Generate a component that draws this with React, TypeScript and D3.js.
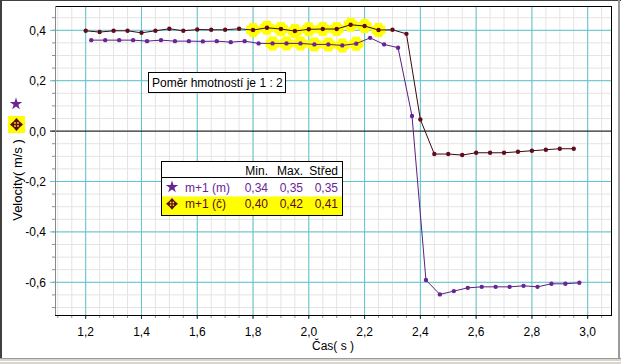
import React from 'react';
import * as d3 from 'd3';

const W = 621;
const H = 364;

// maroon series "m+1 (č)"
const timeC = [1.20, 1.25, 1.30, 1.35, 1.40, 1.45, 1.50, 1.55, 1.60, 1.65, 1.70, 1.75, 1.80, 1.85, 1.90, 1.95, 2.00, 2.05, 2.10, 2.15, 2.20, 2.25, 2.30, 2.35, 2.40, 2.45, 2.50, 2.55, 2.60, 2.65, 2.70, 2.75, 2.80, 2.85, 2.90, 2.95];
const velC = [0.398, 0.393, 0.398, 0.398, 0.390, 0.398, 0.406, 0.398, 0.403, 0.402, 0.402, 0.406, 0.401, 0.410, 0.405, 0.397, 0.404, 0.405, 0.405, 0.422, 0.417, 0.401, 0.402, 0.386, 0.046, -0.091, -0.091, -0.095, -0.086, -0.086, -0.086, -0.082, -0.078, -0.074, -0.070, -0.070];

// purple series "m+1 (m)"
const timeM = [1.22, 1.27, 1.32, 1.37, 1.42, 1.47, 1.52, 1.57, 1.62, 1.67, 1.72, 1.77, 1.82, 1.87, 1.92, 1.97, 2.02, 2.07, 2.12, 2.17, 2.22, 2.27, 2.32, 2.37, 2.42, 2.47, 2.52, 2.57, 2.62, 2.67, 2.72, 2.77, 2.82, 2.87, 2.92, 2.97];
const velM = [0.361, 0.361, 0.361, 0.361, 0.357, 0.361, 0.357, 0.357, 0.356, 0.357, 0.353, 0.357, 0.348, 0.348, 0.348, 0.348, 0.344, 0.344, 0.340, 0.347, 0.370, 0.344, 0.331, 0.060, -0.591, -0.648, -0.635, -0.622, -0.618, -0.618, -0.618, -0.614, -0.618, -0.606, -0.606, -0.602];

// selected (highlighted) ranges
const selectC = [1.80, 2.25];
const selectM = [1.87, 2.17];

const xTicks = [1.2, 1.4, 1.6, 1.8, 2.0, 2.2, 2.4, 2.6, 2.8, 3.0];
const yTicks = [-0.6, -0.4, -0.2, 0.0, 0.2, 0.4];

const statHeaders = ['Min.', 'Max.', 'Střed'];
const seriesNames = ['m+1 (m)', 'm+1 (č)'];
const statMin = ['0,34', '0,40'];
const statMax = ['0,35', '0,42'];
const statMean = ['0,35', '0,41'];

const noteText = 'Poměr hmotností je 1 : 2';
const xTitle = 'Čas( s )';
const yTitle = 'Velocity( m/s )';

const MAROON = '#5e0c1e';
const MAROON_LINE = '#3c0810';
const PURPLE = '#6a2496';
const PURPLE_LINE = '#5a1f84';
const CYAN = '#5cc6cc';
const MINOR = '#e4e4e4';
const YELLOW = '#ffff00';
const FONT = '"Liberation Sans", Arial, sans-serif';

const L = 55, R = 612, T = 6, B = 315;

const x = d3.scaleLinear().domain([1.2, 3.0]).range([85.7, 587.7]);
const y = d3.scaleLinear().domain([-0.6, 0.4]).range([282.3, 30.3]);

const fmt = (v: number) => d3.format('.1f')(v).replace('.', ',').replace('−', '-');

function minorRange(lo: number, hi: number) {
  return d3.range(Math.ceil(lo * 20 - 1e-9), Math.floor(hi * 20 + 1e-9) + 1).map((i) => i / 20);
}

const crossArrows = 'M-5.5,0L5.5,0M0,-5.5L0,5.5M5.5,0L3,-2.2L3,2.2ZM-5.5,0L-3,-2.2L-3,2.2ZM0,-5.5L-2.2,-3L2.2,-3ZM0,5.5L-2.2,3L2.2,3Z';
const blob = 'M-3.5,-7L3.5,-7L4.5,-4.5L7,-3.5L7,3.5L4.5,4.5L3.5,7L-3.5,7L-4.5,4.5L-7,3.5L-7,-3.5L-4.5,-4.5Z';

export default function App() {
  const xMinor = minorRange(x.invert(L), x.invert(R));
  const yMinor = minorRange(y.invert(B), y.invert(T));
  const line = d3.line<[number, number]>().x((d) => x(d[0])).y((d) => y(d[1]));
  const dataC: [number, number][] = timeC.map((t, i) => [t, velC[i]]);
  const dataM: [number, number][] = timeM.map((t, i) => [t, velM[i]]);
  const selC = dataC.filter((d) => d[0] >= selectC[0] - 1e-6 && d[0] <= selectC[1] + 1e-6);
  const selM = dataM.filter((d) => d[0] >= selectM[0] - 1e-6 && d[0] <= selectM[1] + 1e-6);
  const star = d3.symbol(d3.symbolStar, 48)() as string;

  const colRight = [268, 303, 338];

  return (
    <svg width={W} height={H} style={{ position: 'absolute', left: 0, top: 0, fontFamily: FONT }}>
      <rect x={0} y={0} width={W} height={H} fill="#ffffff" />
      {/* window frame */}
      <rect x={0} y={358} width={W} height={6} fill="#d8d5ce" />
      <line x1={0} x2={W} y1={358.5} y2={358.5} stroke="#9a9a9a" />
      <line x1={0} x2={W} y1={361.5} y2={361.5} stroke="#ffffff" />
      <line x1={0} x2={W} y1={0.5} y2={0.5} stroke="#404040" />
      <line x1={1} x2={1} y1={0} y2={358} stroke="#404040" strokeWidth={2} />
      <line x1={619} x2={619} y1={0} y2={358} stroke="#9a9a9a" strokeWidth={2} />

      {/* minor grid */}
      {xMinor.map((v) => (
        <line key={'xm' + v} x1={x(v)} x2={x(v)} y1={T} y2={B} stroke={MINOR} />
      ))}
      {yMinor.map((v) => (
        <line key={'ym' + v} x1={L} x2={R} y1={y(v)} y2={y(v)} stroke={MINOR} />
      ))}
      {/* minor ticks */}
      {xMinor.map((v) => (
        <line key={'xt' + v} x1={x(v)} x2={x(v)} y1={B} y2={B + 3} stroke="#909090" />
      ))}
      {yMinor.map((v) => (
        <line key={'yt' + v} x1={L - 3} x2={L} y1={y(v)} y2={y(v)} stroke="#909090" />
      ))}
      {/* major grid */}
      {xTicks.map((v) => (
        <line key={'xg' + v} x1={x(v)} x2={x(v)} y1={T} y2={B} stroke={CYAN} />
      ))}
      {yTicks.map((v) => (
        <line key={'yg' + v} x1={L - 5} x2={R} y1={y(v)} y2={y(v)} stroke={v === 0 ? '#000' : CYAN} />
      ))}
      {xTicks.map((v) => (
        <line key={'xT' + v} x1={x(v)} x2={x(v)} y1={B} y2={B + 4} stroke="#303030" />
      ))}
      {/* frame */}
      <line x1={L} x2={R} y1={T + 0.5} y2={T + 0.5} stroke="#000" />
      <line x1={R - 0.5} x2={R - 0.5} y1={T} y2={B} stroke="#000" />
      <line x1={L} x2={R} y1={B + 0.5} y2={B + 0.5} stroke="#000" />
      <line x1={L + 0.5} x2={L + 0.5} y1={T} y2={B} stroke="#888" />

      {/* tick labels */}
      {xTicks.map((v) => (
        <text key={'xl' + v} x={x(v)} y={336} fontSize={12} textAnchor="middle" fill="#000">
          {fmt(v)}
        </text>
      ))}
      {yTicks.map((v) => (
        <text key={'yl' + v} x={46} y={y(v) + 4.5} fontSize={12} textAnchor="end" fill="#000">
          {fmt(v)}
        </text>
      ))}
      <text x={333} y={350} fontSize={12} textAnchor="middle">{xTitle}</text>
      <text transform="translate(22,180) rotate(-90)" fontSize={13} textAnchor="middle">{yTitle}</text>

      {/* highlights */}
      {selC.map((d, i) => (
        <path key={'hc' + i} d={blob} transform={`translate(${x(d[0])},${y(d[1])})`} fill={YELLOW} />
      ))}
      {selM.map((d, i) => (
        <path key={'hm' + i} d={blob} transform={`translate(${x(d[0])},${y(d[1])})`} fill={YELLOW} />
      ))}

      {/* lines */}
      <path d={line(dataC) as string} fill="none" stroke={MAROON_LINE} strokeWidth={1} />
      <path d={line(dataM) as string} fill="none" stroke={PURPLE_LINE} strokeWidth={1} />
      {dataC.map((d, i) => (
        <circle key={'pc' + i} cx={x(d[0])} cy={y(d[1])} r={2.2} fill={MAROON} />
      ))}
      {dataM.map((d, i) => (
        <circle key={'pm' + i} cx={x(d[0])} cy={y(d[1])} r={2.2} fill={PURPLE} />
      ))}

      {/* left legend icons */}
      <path d={star} transform="translate(16,104)" fill={PURPLE} />
      <rect x={8} y={116} width={17} height={17} fill={YELLOW} />
      <path d={crossArrows} transform="translate(16.5,124.5)" stroke={MAROON} strokeWidth={1.4} fill={MAROON} />

      {/* note box */}
      <rect x={148.5} y={72.5} width={137} height={20} fill="#fff" stroke="#000" />
      <text x={152} y={87} fontSize={12}>{noteText}</text>

      {/* stats box */}
      <rect x={161.5} y={161.5} width={181} height={54} fill="#fff" stroke="none" />
      <rect x={162} y={196.5} width={180} height={18.5} fill={YELLOW} />
      <rect x={161.5} y={161.5} width={181} height={54} fill="none" stroke="#000" />
      <line x1={162} x2={342} y1={177.5} y2={177.5} stroke="#000" />
      {statHeaders.map((h, i) => (
        <text key={'sh' + i} x={colRight[i]} y={175} fontSize={12} textAnchor="end">{h}</text>
      ))}
      {seriesNames.map((n, r) => {
        const by = r === 0 ? 191.5 : 208.3;
        return (
          <g key={'sr' + r}>
            {r === 0 ? (
              <path d={star} transform={`translate(172,${by - 4.5})`} fill={PURPLE} />
            ) : (
              <path d={crossArrows} transform={`translate(172,${by - 4.5}) scale(0.9)`} stroke={MAROON} strokeWidth={1.4} fill={MAROON} />
            )}
            <text x={185} y={by} fontSize={12} fill={r === 0 ? PURPLE : MAROON}>{n}</text>
            <text x={colRight[0]} y={by} fontSize={12} textAnchor="end" fill={r === 0 ? PURPLE : MAROON}>{statMin[r]}</text>
            <text x={colRight[1]} y={by} fontSize={12} textAnchor="end" fill={r === 0 ? PURPLE : MAROON}>{statMax[r]}</text>
            <text x={colRight[2]} y={by} fontSize={12} textAnchor="end" fill={r === 0 ? PURPLE : MAROON}>{statMean[r]}</text>
          </g>
        );
      })}
    </svg>
  );
}
